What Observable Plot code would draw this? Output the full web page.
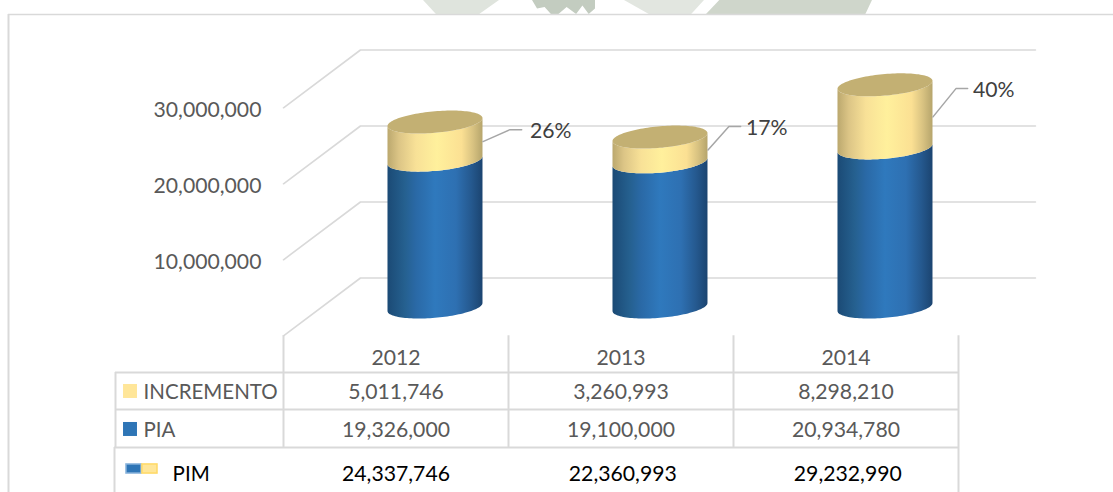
<!DOCTYPE html>
<html>
<head>
<meta charset="utf-8">
<script src="https://cdn.jsdelivr.net/npm/d3@7"></script>
<script src="https://cdn.jsdelivr.net/npm/@observablehq/plot@0.6"></script>
<style>
html,body{margin:0;padding:0;background:#fff;overflow:hidden}
#wrap{position:relative;width:1113px;height:492px}
.wm{position:absolute;top:0;height:14px}
#chart{position:absolute;left:0;top:0}
svg{display:block}
</style>
</head>
<body>
<div id="wrap">
<div class="wm" style="left:423px;width:76px;background:#dfe4dd;clip-path:polygon(0 0,100% 0,74% 100%,17% 100%)"></div>
<div class="wm" style="left:532px;width:63px;background:#c3ccc0;clip-path:polygon(0 0,100% 0,100% 60%,90% 100%,80% 40%,70% 100%,55% 50%,42% 100%,30% 100%,20% 50%,8% 60%)"></div>
<div class="wm" style="left:624px;width:80px;background:#e2e6e0;clip-path:polygon(0 0,100% 0,84% 100%,31% 100%)"></div>
<div class="wm" style="left:706px;width:166px;background:#cfd6cb;clip-path:polygon(8% 0,100% 0,96% 100%,0 100%)"></div>
<div id="chart"></div>
</div>
<script>
// ---- data ----
const years = ["2012", "2013", "2014"];
const incremento = [5011746, 3260993, 8298210];
const pia = [19326000, 19100000, 20934780];
const pim = [24337746, 22360993, 29232990];
const percent = ["26%", "17%", "40%"];
const yTicks = [0, 10000000, 20000000, 30000000];
const rowNames = ["INCREMENTO", "PIA", "PIM"];

// ---- layout expressed in scale units (x: category slots, y: value) ----
const wallLift = 3.88e6, floorDrop = -3.72e6, depth = 0.342, wallEnd = 3.342;
const barOffset = 0.6755, barR = 0.2111, tilt = 0.526e6, ry = 1.42e6;
const headY = -6.72e6, incY = -11.2e6, piaY = -16.2e6, pimY = -21.97e6;
const lineHead = -8.55e6, lineInc = -13.42e6, linePia = -18.42e6, lineEnd = -24.34e6;
const frameTop = 38.55e6, frameLeft = -1.2222, frameRight = 3.6889;
const tableLeft = -0.7467, pimLeft = -0.7511;
const elbowY = [23.4e6, 23.8e6, 28.8e6];
const elbowDx = [0.12, 0.093, 0.102], stubDx = 0.052, labelDx = [0.209, 0.169, 0.178];
const tickNudge = -0.3e6;

const fmt = d3.format(",");
const grey = "#d9d9d9", txt = "#595959";
const angles = d3.range(0, 61).map(i => Math.PI - i * Math.PI / 60);

function segment(i, lo, hi, key) {
  return angles.map(t => {
    const u = Math.cos(t), s = Math.sin(t);
    return {key, x: i + barOffset + barR * u,
      y1: lo + tilt * u - ry * s, y2: hi + tilt * u - ry * s};
  });
}
function cap(i, c) {
  return angles.map(t => {
    const u = Math.cos(t), s = Math.sin(t);
    return {key: i, x: i + barOffset + barR * u,
      y1: c + tilt * u - ry * s, y2: c + tilt * u + ry * s};
  });
}
const blueBodies = years.flatMap((_, i) => segment(i, 0, pia[i], i));
const yellowBodies = years.flatMap((_, i) => segment(i, pia[i], pim[i], i));
const caps = years.flatMap((_, i) => cap(i, pim[i]));
const gridPaths = yTicks.flatMap(v => [
  {v, x: 0, y: v + floorDrop},
  {v, x: depth, y: v + wallLift},
  {v, x: wallEnd, y: v + wallLift}
]);
const leaders = years.flatMap((_, i) => {
  const sx = i + barOffset + barR;
  const ex = sx + elbowDx[i];
  return [
    {i, x: sx, y: pia[i] + incremento[i] / 2},
    {i, x: ex, y: elbowY[i]},
    {i, x: ex + stubDx, y: elbowY[i]}
  ];
});
const rowsText = [
  ...years.map((d, i) => ({x: i + .5, y: headY, t: d})),
  ...incremento.map((d, i) => ({x: i + .5, y: incY, t: fmt(d)})),
  ...pia.map((d, i) => ({x: i + .5, y: piaY, t: fmt(d)}))
];
const pimText = pim.map((d, i) => ({x: i + .5 + (i ? 0.008 : 0), y: pimY, t: fmt(d)}));

function gradients() {
  const ns = "http://www.w3.org/2000/svg";
  const defs = document.createElementNS(ns, "defs");
  const add = (id, stops) => {
    const g = document.createElementNS(ns, "linearGradient");
    g.setAttribute("id", id);
    for (const [o, c] of stops) {
      const s = document.createElementNS(ns, "stop");
      s.setAttribute("offset", o); s.setAttribute("stop-color", c);
      g.appendChild(s);
    }
    defs.appendChild(g);
  };
  add("blueG", [[0, "#1b4a75"], [.18, "#25608f"], [.3, "#2a69a6"], [.5, "#2f79bd"], [.72, "#2e70b2"], [.88, "#25598f"], [1, "#1b4470"]]);
  add("yellowG", [[0, "#bba86e"], [.12, "#dcc586"], [.3, "#f8e197"], [.52, "#fff09c"], [.78, "#fbe093"], [.9, "#d8c281"], [1, "#b6a56c"]]);
  return defs;
}

const textBase = {fontFamily: "Lato", fontSize: 21.2, stroke: null};
const nameBase = {fontFamily: "Lato", fontSize: 20.5, stroke: null};

const plot = Plot.plot({
  width: 1113, height: 492,
  marginTop: 0, marginRight: 0, marginBottom: 0, marginLeft: 0,
  x: {domain: [-283 / 225, 830 / 225], range: [0, 1113], axis: null},
  y: {domain: [-24.342e6, 40.395e6], range: [492, 0], axis: null},
  style: {background: "transparent", fontFamily: "Lato"},
  marks: [
    gradients,
    // chart frame
    Plot.ruleY([frameTop], {x1: frameLeft, x2: frameRight, stroke: grey, strokeWidth: 1.5}),
    Plot.ruleX([frameLeft], {y1: frameTop, y2: lineEnd, stroke: grey, strokeWidth: 2}),
    // walls
    Plot.line(gridPaths, {x: "x", y: "y", z: "v", stroke: grey, strokeWidth: 1.6, curve: "linear"}),
    // cylinders
    Plot.areaY(blueBodies, {x: "x", y1: "y1", y2: "y2", z: "key", fill: "url(#blueG)", curve: "linear"}),
    Plot.areaY(yellowBodies, {x: "x", y1: "y1", y2: "y2", z: "key", fill: "url(#yellowG)", curve: "linear"}),
    Plot.areaY(caps, {x: "x", y1: "y1", y2: "y2", z: "key", fill: "#c3b073", curve: "linear"}),
    // leaders & percent labels
    Plot.line(leaders, {x: "x", y: "y", z: "i", stroke: "#a6a6a6", strokeWidth: 1.5, curve: "linear"}),
    Plot.text(percent, {x: (d, i) => i + barOffset + barR + labelDx[i], y: (d, i) => elbowY[i] + tickNudge / 2, text: d => d, textAnchor: "start", fill: "#404040", ...textBase}),
    // value labels
    Plot.text(yTicks.slice(1), {x: -0.098, y: d => d + floorDrop + tickNudge, text: d => fmt(d), textAnchor: "end", fill: txt, ...textBase}),
    // data table grid
    Plot.ruleX([0, 1, 2, 3], {y1: floorDrop, y2: linePia, stroke: grey, strokeWidth: 2}),
    Plot.ruleX([tableLeft], {y1: lineHead, y2: linePia, stroke: grey, strokeWidth: 2}),
    Plot.ruleX([pimLeft], {y1: linePia, y2: lineEnd, stroke: grey, strokeWidth: 2}),
    Plot.ruleX([3], {y1: linePia, y2: lineEnd, stroke: grey, strokeWidth: 2}),
    Plot.ruleY([lineHead, lineInc], {x1: tableLeft, x2: 3, stroke: grey, strokeWidth: 2}),
    Plot.ruleY([linePia], {x1: pimLeft, x2: 3, stroke: grey, strokeWidth: 2}),
    // table text
    Plot.text(rowsText, {x: "x", y: "y", text: "t", fill: txt, ...textBase}),
    Plot.text(pimText, {x: "x", y: "y", text: "t", fill: "#000", ...textBase}),
    Plot.text(rowNames.slice(0, 2), {x: -0.622, y: (d, i) => [incY, piaY][i], text: d => d, textAnchor: "start", fill: txt, ...nameBase}),
    Plot.text(rowNames.slice(2), {x: -0.493, y: pimY, text: d => d, textAnchor: "start", fill: "#000", ...nameBase}),
    // legend keys
    Plot.rect([incY + 0.15e6, piaY + 0.15e6], {x1: -0.711, x2: -0.649, y1: d => d - 0.92e6, y2: d => d + 0.92e6, fill: (d, i) => i ? "#2e75b6" : "#ffe699"}),
    Plot.rect([0], {x1: -0.698, x2: -0.631, y1: -21.85e6, y2: -20.65e6, fill: "#2e75b6", stroke: "#8db6dd", strokeWidth: 1.5}),
    Plot.rect([0], {x1: -0.627, x2: -0.56, y1: -21.85e6, y2: -20.65e6, fill: "#ffe699", stroke: "#ffd966", strokeWidth: 1.5})
  ]
});
document.getElementById("chart").appendChild(plot);
</script>
</body>
</html>
